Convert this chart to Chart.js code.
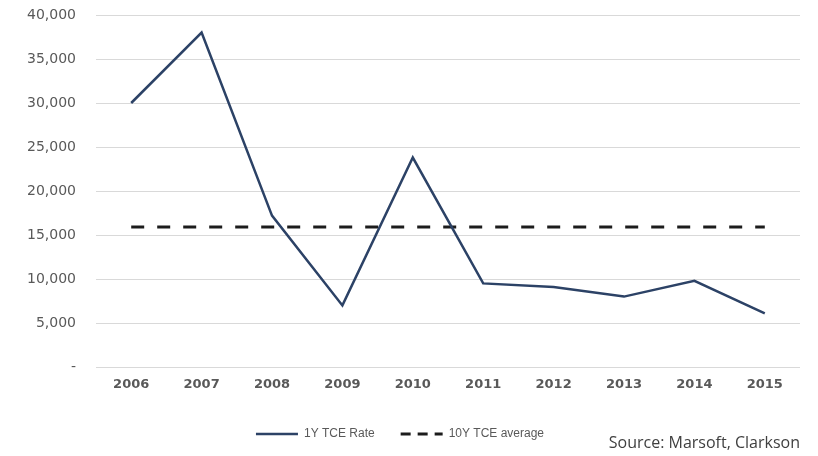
<!DOCTYPE html>
<html>
<head>
<meta charset="utf-8">
<script src="https://cdn.jsdelivr.net/npm/chart.js@4.4.1/dist/chart.umd.min.js"></script>
<style>
    body { margin: 0; background: #fff; }
    .wrap { position: relative; width: 818px; height: 456px; }
    #source {
        position: absolute;
        right: 18px;
        top: 432px;
        font-family: 'Open Sans', sans-serif;
        font-size: 16px;
        color: #404040;
        line-height: 20px;
    }
</style>
</head>
<body>
<div class="wrap">
    <canvas id="tce-chart" width="818" height="456"></canvas>
    <div id="source">Source: Marsoft, Clarkson</div>
</div>
<script>
const years = ['2006', '2007', '2008', '2009', '2010', '2011', '2012', '2013', '2014', '2015'];
const tceRate = [30000, 38000, 17200, 7000, 23800, 9500, 9100, 8000, 9800, 6100];
const tceAverage = [15900, 15900, 15900, 15900, 15900, 15900, 15900, 15900, 15900, 15900];
const yTicks = [0, 5000, 10000, 15000, 20000, 25000, 30000, 35000, 40000];

const colors = {
    rate: '#2C4266',
    average: '#1c1c1c',
    grid: '#d9d9d9',
    text: '#595959'
};

function formatTick(value) {
    if (value === 0) {
        return '-';
    }
    return value.toLocaleString('en-US');
}

// legend swatches: plain line for the rate, two short dashes for the average
function legendLabels(chart) {
    return chart.data.datasets.map(function (ds, i) {
        return {
            text: ds.label,
            datasetIndex: i,
            pointStyle: 'line',
            strokeStyle: ds.borderColor,
            fillStyle: ds.borderColor,
            lineWidth: ds.borderWidth,
            lineDash: i === 1 ? [10, 7] : [],
            fontColor: colors.text
        };
    });
}

document.addEventListener('DOMContentLoaded', function () {
    var ctx = document.getElementById('tce-chart').getContext('2d');
    new Chart(ctx, {
        type: 'line',
        data: {
            labels: years,
            datasets: [{
                label: '1Y TCE Rate',
                data: tceRate,
                borderColor: colors.rate,
                borderWidth: 2.5,
                pointRadius: 0,
                tension: 0,
                fill: false
            }, {
                label: '10Y TCE average',
                data: tceAverage,
                borderColor: colors.average,
                borderWidth: 3,
                borderDash: [13, 13],
                pointRadius: 0,
                tension: 0,
                fill: false
            }]
        },
        options: {
            responsive: false,
            animation: false,
            layout: {
                padding: { left: 0, right: 18, top: 15, bottom: 6 }
            },
            plugins: {
                legend: {
                    position: 'bottom',
                    labels: {
                        usePointStyle: true,
                        pointStyleWidth: 42,
                        boxHeight: 10,
                        padding: 26,
                        color: colors.text,
                        font: { family: 'Liberation Sans', size: 12 },
                        generateLabels: legendLabels
                    }
                },
                tooltip: { enabled: false }
            },
            scales: {
                x: {
                    offset: true,
                    grid: { display: false, drawTicks: false },
                    border: { display: false },
                    ticks: {
                        padding: 10,
                        color: colors.text,
                        font: { family: 'DejaVu Sans', size: 13, weight: 'bold' }
                    },
                    afterFit: function (scale) {
                        scale.height = 35;
                    }
                },
                y: {
                    min: 0,
                    max: 40000,
                    afterBuildTicks: function (scale) {
                        scale.ticks = yTicks.map(function (v) { return { value: v }; });
                    },
                    grid: { color: colors.grid, lineWidth: 1, drawTicks: false },
                    border: { display: false },
                    ticks: {
                        padding: 20,
                        color: colors.text,
                        font: { family: 'DejaVu Sans', size: 14 },
                        callback: formatTick
                    },
                    afterFit: function (scale) {
                        // keep the label gap from pushing the plot down
                        scale.width = 96;
                        scale.paddingTop = 0;
                        scale.paddingBottom = 0;
                    }
                }
            }
        }
    });
});
</script>
</body>
</html>
